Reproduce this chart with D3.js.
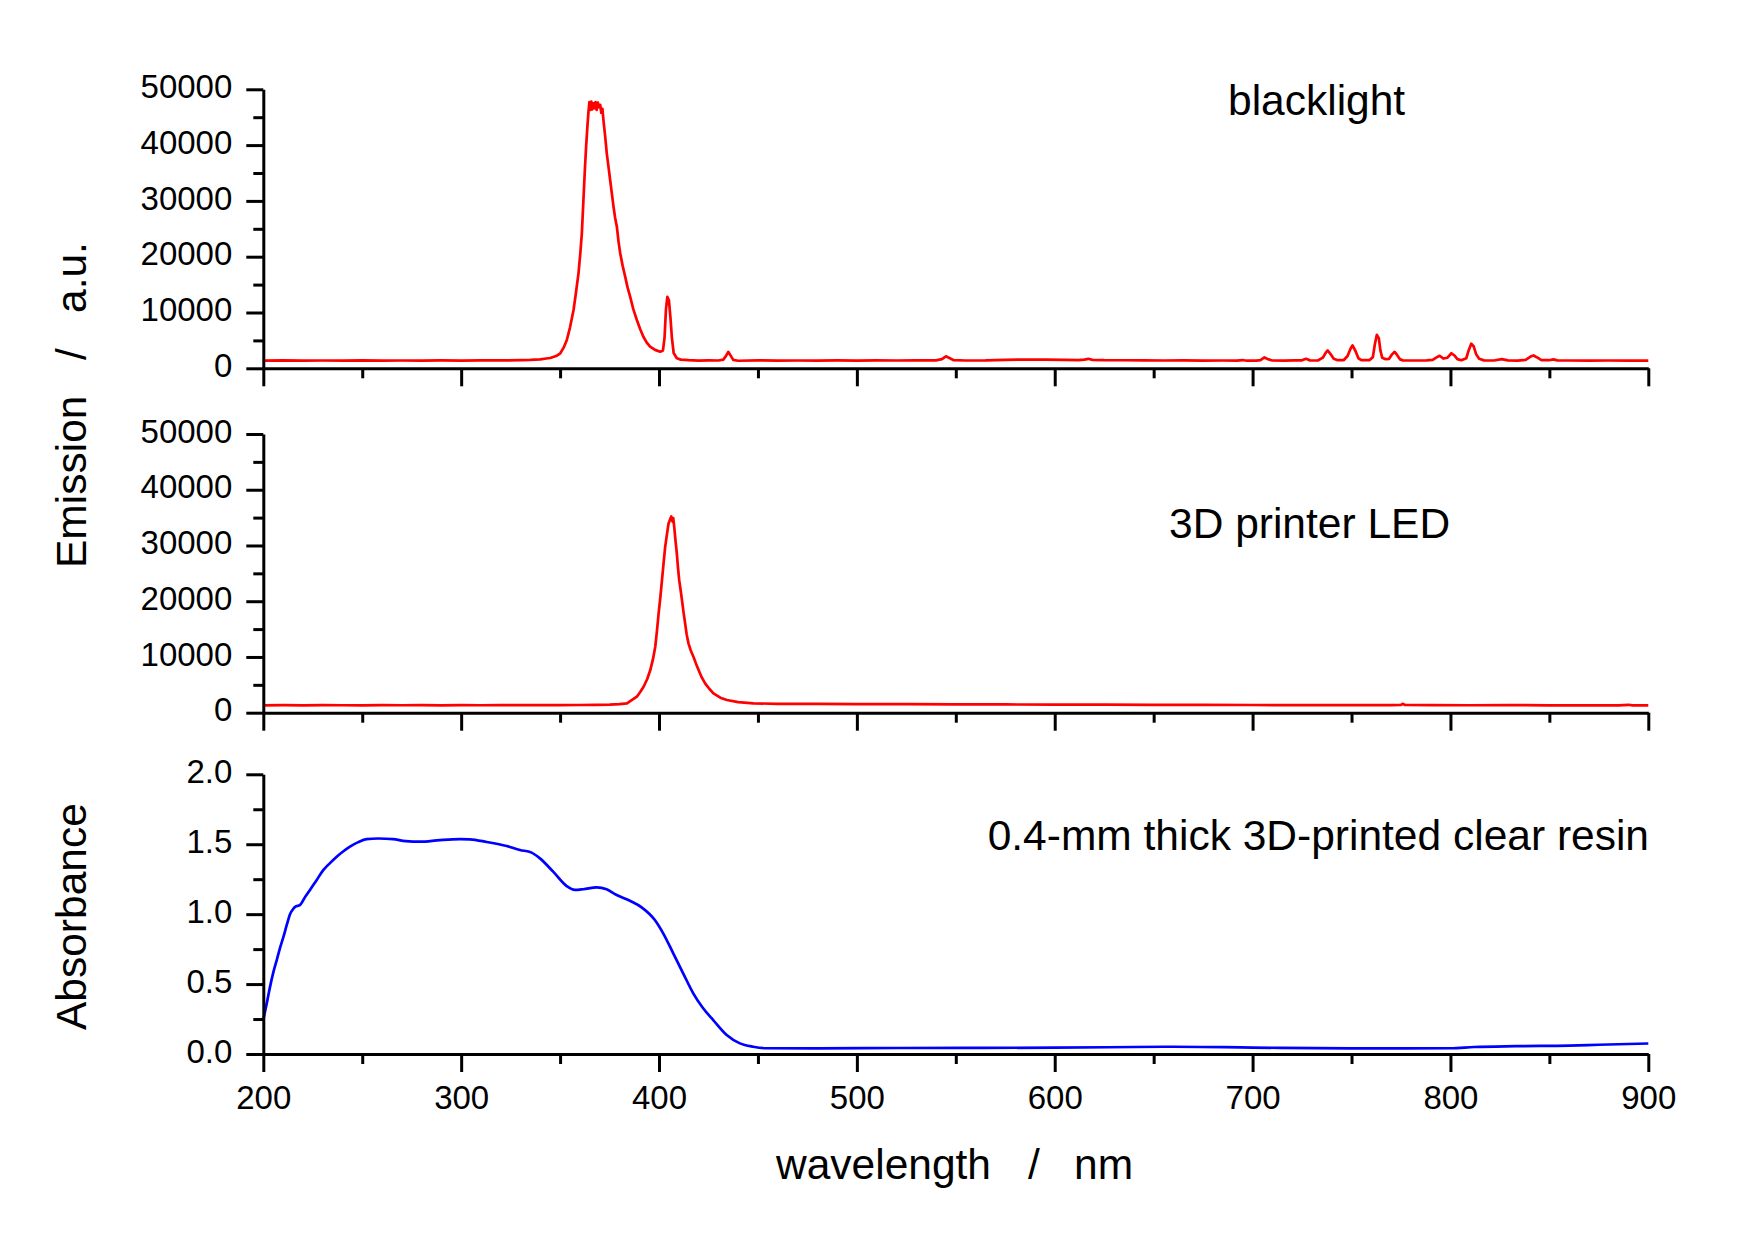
<!DOCTYPE html>
<html>
<head>
<meta charset="utf-8">
<script src="https://cdn.jsdelivr.net/npm/d3@7"></script>
<style>
  html, body { margin: 0; padding: 0; background: #fff; }
  svg { display: block; font-family: "Liberation Sans", Arial, sans-serif; }
</style>
</head>
<body>
<svg id="chart" width="1755" height="1240"></svg>
<script>
// ---------------- DATA ----------------
const xTicksMajor = [200, 300, 400, 500, 600, 700, 800, 900];
const xTicksMinor = [250, 350, 450, 550, 650, 750, 850];
const xTickLabels = ["200", "300", "400", "500", "600", "700", "800", "900"];
const emissionTicksMajor = [0, 10000, 20000, 30000, 40000, 50000];
const emissionTicksMinor = [5000, 15000, 25000, 35000, 45000];
const absTicksMajor = [0, 0.5, 1.0, 1.5, 2.0];
const absTicksMinor = [0.25, 0.75, 1.25, 1.75];
const panelLabels = ["blacklight", "3D printer LED", "0.4-mm thick 3D-printed clear resin"];

// blacklight emission: [wavelength nm, counts]
const blacklight = [
  [200,1380],[210,1420],[220,1360],[230,1400],[240,1380],[250,1420],[260,1370],[270,1400],[280,1390],[290,1420],
  [300,1380],[310,1410],[320,1420],[330,1450],[335,1500],[340,1600],[343,1750],[345,1850],[348,2200],[350.1,2690],
  [351.8,3700],[353.4,5070],[355,7300],[356.8,10450],[358,13500],[359.3,17020],[360.2,20500],[361,24190],[361.8,30160],
  [362.6,36130],[363.2,40000],[363.8,43300],[364.4,46200],[364.8,47700],[365.3,46300],[365.8,47800],[366.3,46400],
  [366.8,47500],[367.4,46600],[367.9,47700],[368.5,46300],[369.1,47600],[369.7,46800],[370.3,47200],[370.8,45800],
  [371.4,46500],[371.9,44500],[372.8,41500],[373.6,38530],[374.5,36000],[375.3,33750],[376.2,31200],[377,28960],
  [377.8,27000],[378.7,25380],[379.5,22800],[380.4,20610],[381.6,18400],[382.9,16420],[384.1,14500],[385.4,12830],
  [387,10600],[388.8,8660],[390.5,7000],[392.1,5660],[393.8,4600],[395.5,3870],[398,3300],[400.6,2970],[402,3200],
  [402.8,5500],[403.5,10500],[404.2,12800],[405,12200],[405.8,9000],[406.5,5500],[407.4,2740],[409,1790],[411,1550],
  [415,1450],[420,1380],[425,1420],[430,1400],[432.5,1550],[434,2300],[435,2950],[436,2400],[437.5,1500],[440,1350],
  [450,1420],[460,1380],[470,1400],[480,1360],[490,1410],[500,1390],[510,1420],[520,1400],[530,1430],[540,1420],
  [543,1650],[545,2150],[547,1800],[549,1450],[555,1400],[565,1420],[575,1520],[585,1560],[595,1540],[605,1520],
  [612,1480],[615,1560],[617,1700],[619,1520],[625,1460],[635,1440],[645,1420],[655,1400],[665,1420],[675,1380],
  [685,1400],[692,1360],[695,1480],[697,1360],[702,1380],[704,1480],[706,1950],[708,1600],[710,1400],[716,1380],
  [721,1420],[725,1430],[727,1700],[729,1420],[733,1400],[735.5,1900],[737,2800],[738,3200],[739.5,2500],[741,1700],
  [743,1450],[746,1450],[748,2200],[749.5,3500],[750.5,4100],[752,3100],[753.5,1800],[755,1450],[759,1450],
  [760.8,2000],[761.8,4300],[762.8,6000],[763.8,5400],[764.6,3200],[765.5,1900],[767,1650],[769,1700],[770.5,2500],
  [771.8,2950],[773,2400],[774.5,1600],[776,1420],[782,1400],[788,1420],[791,1500],[793,1950],[794.5,2250],
  [796.5,1750],[798.5,1900],[800.5,2700],[802,2300],[803.5,1650],[805.5,1450],[808,1800],[809.2,3200],[810.5,4400],
  [811.8,3900],[813,2500],[814.5,1700],[817,1420],[822,1400],[826,1650],[829,1420],[834,1380],[838,1500],[840.5,2100],
  [842,2300],[844,1900],[846,1450],[850,1450],[852,1600],[854,1420],[860,1400],[870,1380],[880,1400],[890,1380],[900,1370]
];

// 3D printer LED emission: [wavelength nm, counts]
const ledEmission = [
  [200,1330],[210,1360],[220,1320],[230,1350],[240,1340],[250,1330],[260,1360],[270,1340],[280,1350],[290,1330],
  [300,1350],[310,1340],[320,1360],[330,1350],[340,1350],[350,1370],[360,1380],[368,1420],[375,1450],[380,1550],
  [383.8,1680],[386,2200],[388.8,2870],[390.5,3700],[392.2,4660],[394,6000],[395.6,7650],[397,9700],[398.1,11830],
  [399,14800],[399.8,17810],[400.7,20800],[401.5,23780],[402.3,26800],[403.1,29700],[404,32000],[404.8,33900],
  [405.5,34600],[406.2,35200],[406.8,34300],[407.2,34900],[407.7,33300],[408.3,31000],[409,28570],[409.6,26000],
  [410.2,23780],[411,21800],[411.6,20200],[412.4,18000],[413.2,16020],[414,14000],[414.9,12440],[416,11200],
  [417.4,10040],[418.7,8800],[420,7650],[421.5,6400],[423.3,5270],[425.4,4300],[427.5,3480],[431,2700],[434.3,2280],
  [440,1900],[447.7,1680],[460,1600],[480,1580],[500,1550],[525,1530],[550,1500],[575,1480],[600,1450],[625,1440],
  [650,1420],[675,1400],[700,1380],[725,1370],[750,1360],[770,1350],[775,1400],[776,1600],[777,1380],[790,1350],
  [810,1340],[830,1350],[850,1330],[870,1330],[885,1320],[890,1420],[892,1320],[900,1310]
];

// resin absorbance: [wavelength nm, absorbance]
const resinAbs = [
  [200,0.245],[202,0.38],[203.4,0.48],[205,0.58],[206.8,0.672],[208.5,0.76],[210.2,0.839],[212,0.93],[213.5,1.0],
  [215,1.035],[216.1,1.052],[218.6,1.066],[221,1.12],[223.6,1.173],[227,1.245],[230.4,1.316],[233.7,1.365],
  [237.1,1.411],[240.5,1.45],[243.8,1.483],[248,1.515],[252.2,1.536],[258,1.541],[265.6,1.536],[272,1.522],
  [279.2,1.518],[289.3,1.530],[299.4,1.537],[304.4,1.535],[312.9,1.516],[323,1.487],[329.7,1.459],[335.6,1.44],
  [339.8,1.399],[346.5,1.304],[353.3,1.201],[357.5,1.173],[361.7,1.178],[368.5,1.192],[373.5,1.178],[378.6,1.137],
  [385.3,1.096],[391.2,1.049],[397.9,0.958],[402.1,0.863],[407.2,0.72],[412.2,0.577],[417.3,0.434],[422.3,0.327],
  [427.4,0.243],[434.2,0.136],[440.9,0.076],[447.6,0.052],[454.4,0.041],[480,0.040],[520,0.043],[560,0.044],
  [600,0.045],[640,0.050],[660,0.052],[700,0.046],[750,0.040],[800,0.041],[812,0.050],[833,0.056],[860,0.060],
  [875,0.066],[900,0.075]
];

// ---------------- LAYOUT ----------------
const svg = d3.select("#chart");
svg.append("rect").attr("width", 1755).attr("height", 1240).attr("fill", "#fff");

const X0 = 263.3, X1 = 1648.3;
const panels = [
  { top: 89.3, bottom: 368.3, domain: [0, 50000], major: emissionTicksMajor, minor: emissionTicksMinor,
    fmt: d => String(d), data: blacklight, color: "#ff0000", curve: d3.curveLinear, xLabels: false },
  { top: 434.0, bottom: 712.7, domain: [0, 50000], major: emissionTicksMajor, minor: emissionTicksMinor,
    fmt: d => String(d), data: ledEmission, color: "#ff0000", curve: d3.curveLinear, xLabels: false },
  { top: 774.3, bottom: 1054.0, domain: [0, 2], major: absTicksMajor, minor: absTicksMinor,
    fmt: d3.format(".1f"), data: resinAbs, color: "#0000ff", curve: d3.curveMonotoneX, xLabels: true }
];

const x = d3.scaleLinear().domain([200, 900]).range([X0, X1]);
const FONT_TICK = 33, FONT_TITLE = 42.5, FONT_LABEL = 42.5;

panels.forEach((p, i) => {
  const y = d3.scaleLinear().domain(p.domain).range([p.bottom, p.top]);
  const g = svg.append("g");

  // data line
  g.append("path")
    .datum(p.data)
    .attr("fill", "none")
    .attr("stroke", p.color)
    .attr("stroke-width", 2.7)
    .attr("stroke-linejoin", "round")
    .attr("d", d3.line().x(d => x(d[0])).y(d => y(d[1])).curve(p.curve));

  // y axis: minor ticks
  g.append("g").attr("transform", `translate(${X0},0)`)
    .call(d3.axisLeft(y).tickValues(p.minor).tickSize(10).tickFormat(""))
    .call(a => a.select(".domain").remove())
    .call(a => a.selectAll("line").attr("stroke", "#000").attr("stroke-width", 3));

  // y axis: major ticks + labels
  g.append("g").attr("transform", `translate(${X0},0)`)
    .call(d3.axisLeft(y).tickValues(p.major).tickSize(17).tickSizeOuter(0).tickPadding(14).tickFormat(p.fmt))
    .call(a => a.select(".domain").attr("stroke", "#000").attr("stroke-width", 3))
    .call(a => a.selectAll("line").attr("stroke", "#000").attr("stroke-width", 3))
    .call(a => a.selectAll("text").attr("font-size", FONT_TICK).attr("fill", "#000")
      .attr("font-family", "Liberation Sans, Arial, sans-serif").attr("dy", "0.25em"));

  // x axis: minor ticks
  g.append("g").attr("transform", `translate(0,${p.bottom})`)
    .call(d3.axisBottom(x).tickValues(xTicksMinor).tickSize(10).tickFormat(""))
    .call(a => a.select(".domain").remove())
    .call(a => a.selectAll("line").attr("stroke", "#000").attr("stroke-width", 3));

  // x axis: major ticks (+ labels on bottom panel)
  g.append("g").attr("transform", `translate(0,${p.bottom})`)
    .call(d3.axisBottom(x).tickValues(xTicksMajor).tickSize(18).tickSizeOuter(0)
      .tickFormat(p.xLabels ? ((d, k) => xTickLabels[k]) : ""))
    .call(a => a.select(".domain").attr("stroke", "#000").attr("stroke-width", 3))
    .call(a => a.selectAll("line").attr("stroke", "#000").attr("stroke-width", 3))
    .call(a => a.selectAll("text").attr("font-size", FONT_TICK).attr("fill", "#000")
      .attr("font-family", "Liberation Sans, Arial, sans-serif").attr("y", 55).attr("dy", null));
});

// panel labels
const labelPos = [
  { x: 1228, y: 115, anchor: "start" },
  { x: 1169, y: 538, anchor: "start" },
  { x: 1649, y: 850, anchor: "end" }
];
panelLabels.forEach((t, i) => {
  svg.append("text").attr("x", labelPos[i].x).attr("y", labelPos[i].y)
    .attr("text-anchor", labelPos[i].anchor).attr("font-size", FONT_LABEL).attr("fill", "#000").text(t);
});

// x axis title
const xTitle = [["wavelength", 776], ["/", 1028], ["nm", 1074]];
xTitle.forEach(([t, px]) => {
  svg.append("text").attr("x", px).attr("y", 1179).attr("font-size", FONT_TITLE).attr("fill", "#000").text(t);
});

// y axis titles (rotated)
const yTitles = [["Emission", 568], ["/", 360], ["a.u.", 313], ["Absorbance", 1030]];
yTitles.forEach(([t, py]) => {
  svg.append("text").attr("transform", `translate(86,${py}) rotate(-90)`)
    .attr("font-size", FONT_TITLE).attr("fill", "#000").text(t);
});
</script>
</body>
</html>
